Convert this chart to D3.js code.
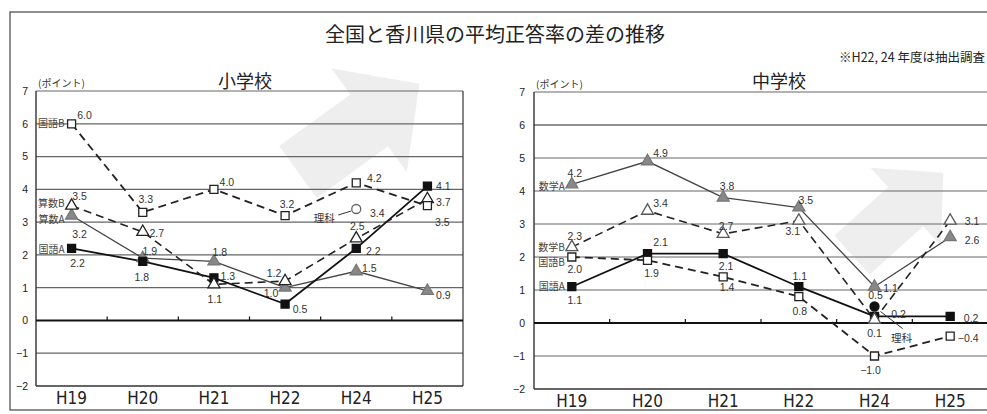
<!DOCTYPE html>
<html lang="ja">
<head>
<meta charset="UTF-8">
<title>全国と香川県の平均正答率の差の推移</title>
<style>
  html, body { margin: 0; padding: 0; background: #fff; overflow: hidden; }
  text { font-family: "Liberation Sans", Arial, sans-serif; }
  .jp { font-family: "Noto Sans CJK JP", sans-serif; }
  .cat { font-family: "Liberation Sans Narrow", "DejaVu Sans Condensed", sans-serif; }
</style>
</head>
<body>
<script src="https://cdn.jsdelivr.net/npm/d3@7"></script>
<script>

const years = ['H19', 'H20', 'H21', 'H22', 'H24', 'H25']
const yTicks = [-2, -1, 0, 1, 2, 3, 4, 5, 6, 7]

// 小学校
const elemKokugoA = [2.2, 1.8, 1.3, 0.5, 2.2, 4.1]
const elemKokugoB = [6.0, 3.3, 4.0, 3.2, 4.2, 3.5]
const elemSansuA = [3.2, 1.9, 1.8, 1.0, 1.5, 0.9]
const elemSansuB = [3.5, 2.7, 1.1, 1.2, 2.5, 3.7]
const elemRika = [null, null, null, null, 3.4, null]

// 中学校
const juniorKokugoA = [1.1, 2.1, 2.1, 1.1, 0.2, 0.2]
const juniorKokugoB = [2.0, 1.9, 1.4, 0.8, -1.0, -0.4]
const juniorSuugakuA = [4.2, 4.9, 3.8, 3.5, 1.1, 2.6]
const juniorSuugakuB = [2.3, 3.4, 2.7, 3.1, 0.1, 3.1]
const juniorRika = [null, null, null, null, 0.5, null]

const width = 987
const height = 414

const svg = d3.select('body')
    .append('svg')
    .attr('width', width)
    .attr('height', height)

// faint arrows in the background of the scan
const arrowPath = 'M0,-32 L88,-32 L88,-64 L150,0 L88,64 L88,32 L0,32 Z'
svg.append('path').attr('d', arrowPath).attr('fill', '#eeeeee')
    .attr('transform', 'translate(298,172) rotate(-36)')
svg.append('path').attr('d', arrowPath).attr('fill', '#eeeeee')
    .attr('transform', 'translate(852,255) rotate(-42) scale(0.82)')

// outer frame
svg.append('rect')
    .attr('x', 10).attr('y', 12)
    .attr('width', 990).attr('height', 398)
    .attr('fill', 'none').attr('stroke', '#444').attr('stroke-width', 1.2)

svg.append('text')
    .attr('class', 'jp')
    .attr('x', 495).attr('y', 42)
    .attr('text-anchor', 'middle')
    .attr('font-size', 20)
    .attr('fill', '#222')
    .text('全国と香川県の平均正答率の差の推移')

svg.append('text')
    .attr('class', 'jp')
    .attr('x', 985).attr('y', 62)
    .attr('text-anchor', 'end')
    .attr('font-size', 12.5)
    .attr('fill', '#222')
    .text('※H22, 24 年度は抽出調査')

// label offsets (dx, dy) from each point, per series
const elemShift = {
    kokugoA: [[6, 15], [-1, 16], [14, -2], [15, 5], [17, 3], [16, 0]],
    kokugoB: [[13, -8], [3, -13], [13, -7], [2, -11], [18, -4], [15, 17]],
    sansuA: [[8, 19], [7, -7], [6, -9], [-14, 6], [13, -3], [16, 4]],
    sansuB: [[8, -9], [14, 1], [1, 15], [-11, -8], [1, -12], [16, 3]],
    rika: [null, null, null, null, [21, 4], null]
}
const juniorShift = {
    kokugoA: [[3, 14], [13, -11], [3, 13], [1, -10], [24, -2], [21, 2]],
    kokugoB: [[3, 12], [4, 13], [4, 11], [1, 15], [-4, 14], [18, 2]],
    suugakuA: [[3, -11], [13, -8], [4, -11], [7, -7], [16, 2], [22, 3]],
    suugakuB: [[3, -11], [13, -7], [3, -8], [-6, 11], [0, 14], [22, 1]],
    rika: [null, null, null, null, [1, -11], null]
}

function drawPanel(p) {
    const x = d3.scaleBand().domain(years).range([p.left, p.right])
    const y = d3.scaleLinear().domain([-2, 7]).range([p.bottom, p.top])
    const cx = (i) => x(years[i]) + x.bandwidth() / 2

    const g = svg.append('g')

    // grid lines
    g.selectAll('.grid')
        .data(yTicks.filter(t => t !== 0 && t !== -2))
        .enter()
        .append('line')
        .attr('x1', p.left).attr('x2', p.right)
        .attr('y1', d => y(d)).attr('y2', d => y(d))
        .attr('stroke', d => (p.darkSix && d === 6) ? '#222' : '#666')
        .attr('stroke-width', 1.2)

    // frame
    g.append('line').attr('x1', p.left).attr('x2', p.left)
        .attr('y1', y(7)).attr('y2', y(-2)).attr('stroke', '#333').attr('stroke-width', 1.4)
    g.append('line').attr('x1', p.left).attr('x2', p.right)
        .attr('y1', y(-2)).attr('y2', y(-2)).attr('stroke', '#333').attr('stroke-width', 1.4)
    if (p.closeRight) {
        g.append('line').attr('x1', p.right).attr('x2', p.right)
            .attr('y1', y(7)).attr('y2', y(-2)).attr('stroke', '#333').attr('stroke-width', 1.2)
    }

    // zero axis with small inward ticks
    g.append('line').attr('x1', p.left).attr('x2', p.right)
        .attr('y1', y(0)).attr('y2', y(0)).attr('stroke', '#111').attr('stroke-width', 2)
    g.selectAll('.tk')
        .data(years.slice(1))
        .enter()
        .append('line')
        .attr('x1', d => x(d)).attr('x2', d => x(d))
        .attr('y1', y(0)).attr('y2', y(0) - 4)
        .attr('stroke', '#111').attr('stroke-width', 1.2)

    // y tick labels
    const yAxis = g.append('g')
        .attr('transform', `translate(${p.left}, 0)`)
        .call(d3.axisLeft(y).tickValues(yTicks).tickSize(0).tickPadding(p.left - p.tickX)
            .tickFormat(d => d < 0 ? '\u2212' + Math.abs(d) : d))
    yAxis.select('.domain').remove()
    yAxis.selectAll('text').attr('font-size', 10.5).attr('fill', '#222')
        .attr('font-family', 'Liberation Sans, Arial, sans-serif')

    // category labels
    const xAxis = g.append('g')
        .attr('transform', `translate(0, ${y(-2)})`)
        .call(d3.axisBottom(x).tickSize(0).tickPadding(6))
    xAxis.select('.domain').remove()
    xAxis.selectAll('text').attr('class', 'cat').attr('font-size', 17).attr('fill', '#222')

    // unit and subtitle
    g.append('text').attr('class', 'jp')
        .attr('x', p.left + 2).attr('y', y(7) - 4)
        .attr('font-size', 10).attr('fill', '#333')
        .text('(ポイント)')
    g.append('text').attr('class', 'jp')
        .attr('x', p.titleX).attr('y', 88)
        .attr('text-anchor', 'middle')
        .attr('font-size', 18).attr('fill', '#222')
        .text(p.title)

    const line = d3.line()
        .defined(d => d != null)
        .x((d, i) => cx(i))
        .y(d => y(d))

    p.series.forEach(s => {
        if (s.values.filter(v => v != null).length > 1) {
            g.append('path')
                .datum(s.values)
                .attr('d', line)
                .attr('fill', 'none')
                .attr('stroke', s.lineColor)
                .attr('stroke-width', s.lineWidth)
                .attr('stroke-dasharray', s.dashed ? '8,5' : null)
        }
    })

    p.series.forEach(s => {
        const pts = s.values.map((v, i) => ({ v, i })).filter(d => d.v != null)
        const sym = s.marker === 'circle' ? null
            : d3.symbol().type(s.marker === 'square' ? d3.symbolSquare : d3.symbolTriangle)
                .size(s.marker === 'square' ? 64 : 62)
        g.selectAll(null)
            .data(pts)
            .enter()
            .append(s.marker === 'circle' ? 'circle' : 'path')
            .attr('transform', d => `translate(${cx(d.i)}, ${y(d.v)})`)
            .attr('d', sym)
            .attr('r', s.marker === 'circle' ? 4.5 : null)
            .attr('fill', s.fill)
            .attr('stroke', s.stroke)
            .attr('stroke-width', 1.3)

        // value labels
        g.selectAll(null)
            .data(pts)
            .enter()
            .append('text')
            .attr('x', d => cx(d.i) + s.shift[d.i][0])
            .attr('y', d => y(d.v) + s.shift[d.i][1])
            .attr('dy', '0.35em')
            .attr('text-anchor', 'middle')
            .attr('font-size', 10.5)
            .attr('fill', '#333')
            .text(d => (d.v < 0 ? '\u2212' : '') + Math.abs(d.v).toFixed(1))

        // series name
        if (s.name !== '理科') {
            g.append('text').attr('class', 'jp')
                .attr('x', cx(0) - 7).attr('y', y(s.values[0]) + (s.nameDy || 0))
                .attr('dy', '0.35em')
                .attr('text-anchor', 'end')
                .attr('font-size', 10).attr('fill', '#444')
                .text(s.name)
        } else {
            const i = s.values.findIndex(v => v != null)
            const px = cx(i), py = y(s.values[i])
            g.append('line')
                .attr('x1', px + s.leader[0]).attr('y1', py + s.leader[1])
                .attr('x2', px + s.leader[2]).attr('y2', py + s.leader[3])
                .attr('stroke', '#333').attr('stroke-width', 1)
            g.append('text').attr('class', 'jp')
                .attr('x', px + s.nameAt[0]).attr('y', py + s.nameAt[1])
                .attr('dy', '0.35em')
                .attr('text-anchor', 'middle')
                .attr('font-size', 10.5).attr('fill', '#333')
                .text('理科')
        }
    })
}

drawPanel({
    left: 36, right: 463, top: 91, bottom: 386, tickX: 28,
    closeRight: true, darkSix: false,
    title: '小学校', titleX: 245,
    series: [
        { name: '算数A', values: elemSansuA, marker: 'triangle', fill: '#888', stroke: '#777',
          lineColor: '#444', lineWidth: 1.3, dashed: false, shift: elemShift.sansuA, nameDy: 4 },
        { name: '国語A', values: elemKokugoA, marker: 'square', fill: '#111', stroke: '#111',
          lineColor: '#111', lineWidth: 1.8, dashed: false, shift: elemShift.kokugoA, nameDy: 1 },
        { name: '算数B', values: elemSansuB, marker: 'triangle', fill: '#fff', stroke: '#222',
          lineColor: '#222', lineWidth: 1.6, dashed: true, shift: elemShift.sansuB, nameDy: -2 },
        { name: '国語B', values: elemKokugoB, marker: 'square', fill: '#fff', stroke: '#222',
          lineColor: '#222', lineWidth: 1.8, dashed: true, shift: elemShift.kokugoB, nameDy: 0 },
        { name: '理科', values: elemRika, marker: 'circle', fill: '#fff', stroke: '#666',
          lineColor: '#666', lineWidth: 1, dashed: false, shift: elemShift.rika,
          leader: [-5, 2, -18, 6], nameAt: [-32, 9] }
    ]
})

drawPanel({
    left: 534, right: 988, top: 92, bottom: 389, tickX: 525,
    closeRight: false, darkSix: true,
    title: '中学校', titleX: 779,
    series: [
        { name: '数学A', values: juniorSuugakuA, marker: 'triangle', fill: '#888', stroke: '#777',
          lineColor: '#444', lineWidth: 1.3, dashed: false, shift: juniorShift.suugakuA, nameDy: 2 },
        { name: '国語A', values: juniorKokugoA, marker: 'square', fill: '#111', stroke: '#111',
          lineColor: '#111', lineWidth: 1.8, dashed: false, shift: juniorShift.kokugoA, nameDy: 0 },
        { name: '数学B', values: juniorSuugakuB, marker: 'triangle', fill: '#fff', stroke: '#555',
          lineColor: '#222', lineWidth: 1.6, dashed: true, shift: juniorShift.suugakuB, nameDy: 0 },
        { name: '国語B', values: juniorKokugoB, marker: 'square', fill: '#fff', stroke: '#222',
          lineColor: '#222', lineWidth: 1.8, dashed: true, shift: juniorShift.kokugoB, nameDy: 5 },
        { name: '理科', values: juniorRika, marker: 'circle', fill: '#111', stroke: '#111',
          lineColor: '#111', lineWidth: 1, dashed: false, shift: juniorShift.rika,
          leader: [6, 5, 28, 22], nameAt: [27, 32] }
    ]
})

</script>
</body>
</html>
